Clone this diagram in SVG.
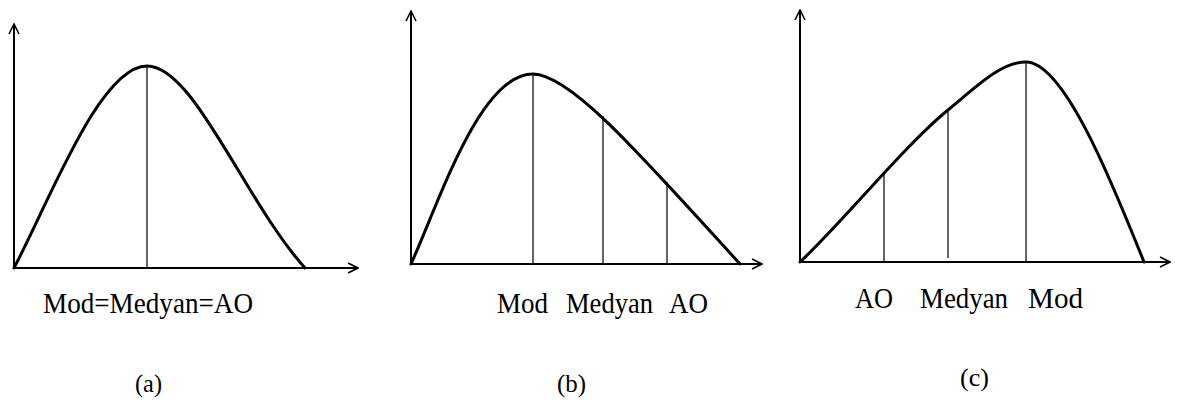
<svg xmlns="http://www.w3.org/2000/svg" width="1180" height="403" viewBox="0 0 1180 403">
<style>
.axis{stroke:#000;stroke-width:2;fill:none}
.curve{stroke:#000;stroke-width:3;fill:none;stroke-linejoin:round;stroke-linecap:round}
.guide{stroke:#000;stroke-width:1.2;fill:none}
.lbl{font-family:"Liberation Serif","Times New Roman",serif;fill:#000;font-size:29px}
.cap{font-family:"Liberation Serif","Times New Roman",serif;fill:#000;font-size:26px}
</style>
<defs>
<marker id="arr" viewBox="0 0 12 12" refX="11" refY="6" markerWidth="12" markerHeight="12" markerUnits="userSpaceOnUse" orient="auto">
<path d="M1,1 L11,6 L1,11" fill="none" stroke="#000" stroke-width="1.6"/>
</marker>
</defs>
<rect width="1180" height="403" fill="#fff"/>
<g id="panel-a">
<line class="axis" x1="14" y1="268" x2="14" y2="24" marker-end="url(#arr)"/>
<line class="axis" x1="14" y1="268" x2="358" y2="268" marker-end="url(#arr)"/>
<path class="curve" d="M14,268 C50,200 100,66 147,66 C194,66 244,200 305,268"/>
<line class="guide" x1="147" y1="66" x2="147" y2="268"/>
<text class="lbl" x="43" y="313" textLength="210" lengthAdjust="spacingAndGlyphs">Mod=Medyan=AO</text>
<text class="cap" x="135" y="392" textLength="27" lengthAdjust="spacingAndGlyphs">(a)</text>
</g>
<g id="panel-b">
<line class="axis" x1="411" y1="264" x2="411" y2="11" marker-end="url(#arr)"/>
<line class="axis" x1="411" y1="264" x2="762" y2="264" marker-end="url(#arr)"/>
<path class="curve" d="M411,264 C440,200 480,74 533,74 C570,74 640,154 740,264"/>
<line class="guide" x1="533" y1="74" x2="533" y2="264"/>
<line class="guide" x1="603" y1="116" x2="603" y2="264"/>
<line class="guide" x1="667" y1="182" x2="667" y2="264"/>
<text class="lbl" x="497" y="313" textLength="51" lengthAdjust="spacingAndGlyphs">Mod</text>
<text class="lbl" x="566" y="313" textLength="87" lengthAdjust="spacingAndGlyphs">Medyan</text>
<text class="lbl" x="669" y="313" textLength="39" lengthAdjust="spacingAndGlyphs">AO</text>
<text class="cap" x="557" y="392" textLength="29" lengthAdjust="spacingAndGlyphs">(b)</text>
</g>
<g id="panel-c">
<line class="axis" x1="800" y1="262" x2="800" y2="10" marker-end="url(#arr)"/>
<line class="axis" x1="800" y1="262" x2="1170" y2="262" marker-end="url(#arr)"/>
<path class="curve" d="M800,262 C840,225 905,145 948,110 C974,89 1000,62 1026,62 C1065,62 1115,190 1144,262"/>
<line class="guide" x1="884" y1="172" x2="884" y2="262"/>
<line class="guide" x1="948" y1="110" x2="948" y2="258"/>
<line class="guide" x1="1026" y1="62" x2="1026" y2="262"/>
<text class="lbl" x="855" y="308" textLength="38" lengthAdjust="spacingAndGlyphs">AO</text>
<text class="lbl" x="920" y="308" textLength="88" lengthAdjust="spacingAndGlyphs">Medyan</text>
<text class="lbl" x="1028" y="308" textLength="55" lengthAdjust="spacingAndGlyphs">Mod</text>
<text class="cap" x="960" y="386" textLength="29" lengthAdjust="spacingAndGlyphs">(c)</text>
</g>
</svg>
